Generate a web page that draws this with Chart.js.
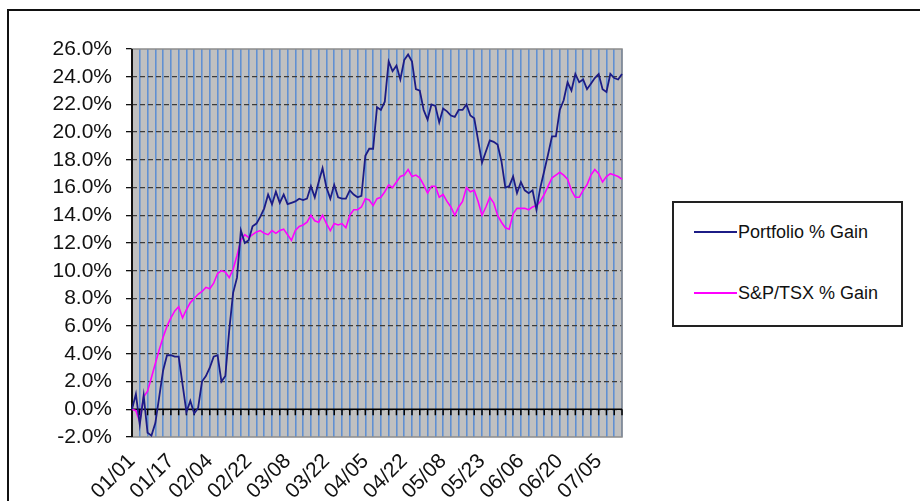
<!DOCTYPE html>
<html>
<head>
<meta charset="utf-8">
<script src="https://cdn.jsdelivr.net/npm/chart.js@4.4.1/dist/chart.umd.min.js"></script>
<style>
  html, body { margin: 0; padding: 0; background: #fff; overflow: hidden; }
  #wrap { position: relative; width: 920px; height: 501px; overflow: hidden; }
  #frame { position: absolute; left: 7px; top: 9px; width: 1000px; height: 1000px;
           border-left: 2px solid #111; border-top: 2px solid #111; }
  #chartBox { position: absolute; left: 0; top: 0; width: 920px; height: 501px; }
  #legend { position: absolute; left: 672px; top: 201px; width: 227px; height: 122px;
            border: 2px solid #222; background: #fff;
            font-family: Arial, "Liberation Sans", sans-serif; font-size: 18px; color: #111; }
  .item { position: absolute; left: 0; height: 20px; width: 220px; }
  .swatch { position: absolute; left: 20px; top: 9px; width: 43px; height: 2px; }
  .label { position: absolute; left: 64px; top: 0; line-height: 20px; white-space: nowrap; }
</style>
</head>
<body>
<div id="wrap">
  <div id="frame"></div>
  <div id="chartBox"><canvas id="myChart"></canvas></div>
  <div id="legend"></div>
</div>
<script>
// tick labels shown every 10 trading days
const tickLabels = ['01/01', '01/17', '02/04', '02/22', '03/08', '03/22', '04/05',
                    '04/22', '05/08', '05/23', '06/06', '06/20', '07/05'];

const portfolioGain = [
  0.0, 1.1, -1.1, 1.0, -1.7, -1.9, -1.0, 0.9, 2.8, 3.9,
  3.9, 3.8, 3.8, 1.8, -0.2, 0.6, -0.3, 0.1, 2.0, 2.4,
  3.0, 3.8, 3.9, 2.0, 2.4, 5.7, 8.4, 9.5, 12.9, 12.0,
  12.2, 13.2, 13.4, 13.9, 14.5, 15.5, 14.8, 15.7, 14.9, 15.5,
  14.8, 14.9, 15.0, 15.2, 15.1, 15.2, 16.1, 15.3, 16.4, 17.4,
  16.0, 15.2, 16.2, 15.3, 15.2, 15.2, 15.8, 15.5, 15.3, 15.4,
  18.3, 18.8, 18.8, 21.8, 21.6, 22.2, 25.1, 24.4, 24.8, 23.8,
  25.2, 25.6, 25.1, 23.1, 23.0, 21.6, 20.9, 22.0, 21.9, 20.7,
  21.7, 21.5, 21.2, 21.1, 21.6, 21.6, 22.0, 21.2, 21.0, 19.4,
  17.8, 18.6, 19.4, 19.3, 19.1, 17.9, 16.0, 16.1, 16.8, 15.6,
  16.4, 15.8, 15.6, 15.8, 14.4, 16.0, 17.2, 18.4, 19.7, 19.7,
  21.6, 22.3, 23.6, 23.0, 24.2, 23.6, 23.8, 23.1, 23.5, 23.9,
  24.2, 23.1, 22.9, 24.2, 23.9, 23.8, 24.2
];

const tsxGain = [
  0.0, -0.1, -0.9, 0.9, 1.3, 2.3, 3.3, 4.3, 5.2, 6.0,
  6.6, 7.1, 7.4, 6.6, 7.2, 7.7, 8.0, 8.3, 8.5, 8.8,
  8.7, 9.1, 9.8, 10.0, 9.9, 9.5, 10.1, 11.1, 12.2, 12.6,
  12.4, 12.6, 12.8, 12.9, 12.7, 12.6, 12.9, 12.7, 12.9, 13.0,
  12.6, 12.2, 12.9, 13.2, 13.3, 13.5, 14.0, 13.6, 13.5, 14.0,
  13.4, 12.9, 13.4, 13.3, 13.4, 13.1, 14.0, 14.4, 14.4, 14.6,
  15.2, 15.1, 14.7, 15.2, 15.3, 15.7, 16.2, 16.0, 16.4, 16.8,
  16.9, 17.3, 16.8, 16.9, 16.7, 16.2, 15.6, 16.1, 16.1, 15.3,
  15.5, 15.0, 14.6, 14.0, 14.6, 15.0, 16.0, 15.7, 15.8, 15.0,
  14.0, 14.6, 15.3, 14.9, 14.0, 13.5, 13.1, 13.0, 14.1, 14.5,
  14.5, 14.5, 14.4, 14.6, 14.7, 15.0, 15.5, 16.1, 16.7, 16.9,
  17.1, 16.9, 16.6, 15.8, 15.3, 15.3, 15.8, 16.2, 16.9, 17.3,
  17.0, 16.4, 16.8, 17.0, 16.9, 16.8, 16.6
];

const seriesNames = ['Portfolio % Gain', 'S&P/TSX % Gain'];
const seriesColors = ['#1c1c86', '#ff00ff'];

// one category per trading day, label only every 10th
const labels = portfolioGain.map((_, i) => (i % 10 === 0 ? (tickLabels[i / 10] || '') : ''));

const FONT = 'Arial, "Liberation Sans", sans-serif';

// grey plot area, zero axis with its tick marks, plot border
const plotDecor = {
  id: 'plotDecor',
  beforeDraw(chart) {
    const { ctx, chartArea: a } = chart;
    ctx.save();
    ctx.fillStyle = '#c0c0c0';
    ctx.fillRect(a.left, a.top, a.right - a.left, a.bottom - a.top);
    ctx.restore();
  },
  beforeDatasetsDraw(chart) {
    const { ctx, chartArea: a, scales: { x, y } } = chart;
    ctx.save();
    ctx.strokeStyle = '#8c8c8c';
    ctx.lineWidth = 1.5;
    ctx.strokeRect(a.left, a.top, a.right - a.left, a.bottom - a.top);

    const y0 = y.getPixelForValue(0);
    ctx.strokeStyle = '#000';
    ctx.lineWidth = 1.5;
    ctx.beginPath();
    ctx.moveTo(a.left, y0);
    ctx.lineTo(a.right, y0);
    for (let i = 0; i < labels.length; i += 2) {
      const px = x.getPixelForValue(i);
      ctx.moveTo(px, y0);
      ctx.lineTo(px, y0 + 6);
    }
    ctx.stroke();

    ctx.lineWidth = 2;
    ctx.strokeStyle = '#111';
    ctx.beginPath();
    ctx.moveTo(a.left, a.top);
    ctx.lineTo(a.left, a.bottom);
    ctx.stroke();
    ctx.restore();
  }
};

const chart = new Chart(document.getElementById('myChart'), {
  type: 'line',
  data: {
    labels: labels,
    datasets: [
      { label: seriesNames[0], data: portfolioGain, borderColor: seriesColors[0], borderWidth: 1.8 },
      { label: seriesNames[1], data: tsxGain, borderColor: seriesColors[1], borderWidth: 1.6 }
    ]
  },
  options: {
    responsive: true,
    maintainAspectRatio: false,
    animation: false,
    layout: { padding: { left: 0, top: 49, right: 298, bottom: 0 } },
    elements: { point: { radius: 0 }, line: { tension: 0 } },
    plugins: { legend: { display: false }, tooltip: { enabled: false } },
    scales: {
      x: {
        type: 'category',
        offset: false,
        border: { display: false },
        grid: {
          color: (c) => (c.index % 2 === 0 ? '#6190d2' : 'rgba(0,0,0,0)'),
          lineWidth: 1.6,
          drawTicks: false
        },
        ticks: {
          autoSkip: false,
          minRotation: 45,
          maxRotation: 45,
          padding: 12,
          color: '#111',
          font: { family: FONT, size: 21 }
        },
        afterFit: (s) => { s.height = 64; }
      },
      y: {
        min: -2,
        max: 26,
        border: { display: false, dash: [5, 3] },
        grid: {
          color: (c) => (c.tick && (c.tick.value === 26 || c.tick.value === -2) ? 'rgba(0,0,0,0)' : '#3c3c3c'),
          lineWidth: 1.3,
          tickColor: '#111',
          tickLength: 6,
          tickBorderDash: []
        },
        ticks: {
          stepSize: 2,
          autoSkip: false,
          padding: 14,
          color: '#111',
          font: { family: FONT, size: 21 },
          callback: (v) => v.toFixed(1) + '%'
        },
        afterFit: (s) => { s.width = 132; }
      }
    }
  },
  plugins: [plotDecor]
});

// legend box built from the chart's datasets
const legendEl = document.getElementById('legend');
const itemTops = [19, 80];
chart.data.datasets.forEach((ds, i) => {
  const item = document.createElement('div');
  item.className = 'item';
  item.style.top = itemTops[i] + 'px';
  const sw = document.createElement('div');
  sw.className = 'swatch';
  sw.style.background = ds.borderColor;
  const tx = document.createElement('div');
  tx.className = 'label';
  tx.textContent = ds.label;
  item.appendChild(sw);
  item.appendChild(tx);
  legendEl.appendChild(item);
});
</script>
</body>
</html>
